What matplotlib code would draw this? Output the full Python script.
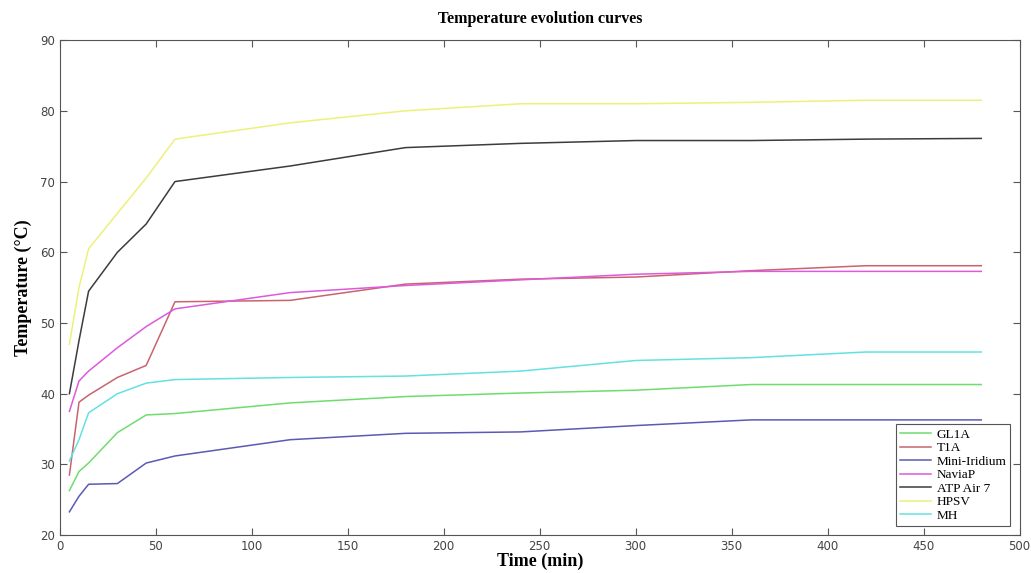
import numpy as np
import matplotlib
matplotlib.use('Agg')
import matplotlib.pyplot as plt

# sampling times (min)
t = [5, 10, 15, 30, 45, 60, 120, 180, 240, 300, 360, 420, 480]

gl1a = [26.3, 29.0, 30.2, 34.5, 37.0, 37.2, 38.7, 39.6, 40.1, 40.5, 41.3, 41.3, 41.3]
t1a = [28.5, 38.8, 39.8, 42.3, 44.0, 53.0, 53.2, 55.5, 56.2, 56.5, 57.4, 58.1, 58.1]
mini_iridium = [23.3, 25.5, 27.2, 27.3, 30.2, 31.2, 33.5, 34.4, 34.6, 35.5, 36.3, 36.3, 36.3]
naviap = [37.5, 41.8, 43.2, 46.5, 49.5, 52.0, 54.3, 55.3, 56.1, 56.9, 57.3, 57.3, 57.3]
atp_air7 = [40.0, 47.5, 54.5, 60.0, 64.0, 70.0, 72.2, 74.8, 75.4, 75.8, 75.8, 76.0, 76.1]
hpsv = [47.0, 55.0, 60.5, 65.5, 70.5, 76.0, 78.3, 80.0, 81.0, 81.0, 81.2, 81.5, 81.5]
mh = [30.5, 33.5, 37.3, 40.0, 41.5, 42.0, 42.3, 42.5, 43.2, 44.7, 45.1, 45.9, 45.9]

labels = ['GL1A', 'T1A', 'Mini-Iridium', 'NaviaP', 'ATP Air 7', 'HPSV', 'MH']
series = [gl1a, t1a, mini_iridium, naviap, atp_air7, hpsv, mh]
colors = ['#6fdc6f', '#c8646e', '#5a5ab4', '#dc5adc', '#3c3c3c', '#eef07a', '#64e1e1']

fig = plt.figure(figsize=(10.31, 5.73), dpi=100)
ax = fig.add_axes([0.058, 0.066, 0.931, 0.864])

for y, lab, c in zip(series, labels, colors):
    ax.plot(t, y, color=c, lw=1.1, label=lab)

ax.set_xlim(0, 500)
ax.set_ylim(20, 90)
ax.set_xticks(np.arange(0, 501, 50))
ax.set_yticks(np.arange(20, 91, 10))
ax.tick_params(direction='in', length=5, labelsize=8.5, labelcolor='#444444', color='#555555',
               top=True, right=True)
for s in ax.spines.values():
    s.set_color('#555555')
    s.set_linewidth(0.8)

serif = 'Liberation Serif'
ax.set_title('Temperature evolution curves', fontfamily=serif, fontweight='bold', fontsize=11.5, pad=12)
ax.set_xlabel('Time (min)', fontfamily=serif, fontweight='bold', fontsize=13, labelpad=0)
ax.set_ylabel('Temperature (°C)', fontfamily=serif, fontweight='bold', fontsize=13, labelpad=6)

leg = ax.legend(loc='lower right', prop={'family': serif, 'size': 9.5}, fancybox=False,
                edgecolor='#555555', framealpha=1, handlelength=2.4, labelspacing=0.1,
                borderaxespad=0.7, handletextpad=0.4, borderpad=0.3)
leg.get_frame().set_linewidth(0.8)

fig.savefig('out.png', dpi=100)
